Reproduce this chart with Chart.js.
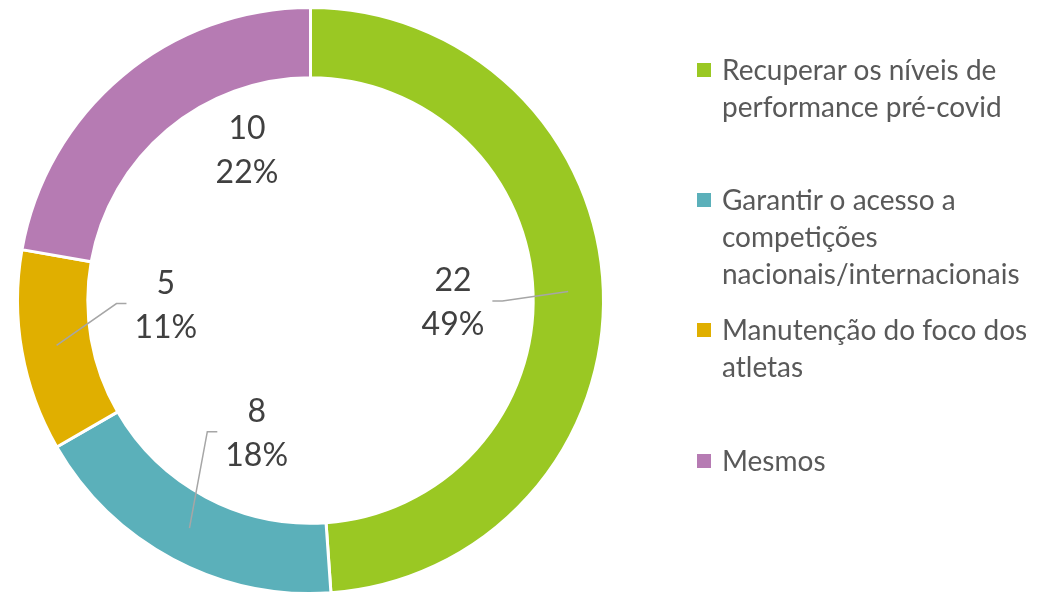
<!DOCTYPE html>
<html>
<head>
<meta charset="utf-8">
<script src="https://cdn.jsdelivr.net/npm/chart.js@4/dist/chart.umd.min.js"></script>
<style>
  body { margin: 0; background: #fff; }
  #wrap { position: relative; width: 1048px; height: 595px; }
  #legend { position: absolute; left: 0; top: 0; width: 1048px; font-family: Lato, sans-serif; font-size: 28px; color: #595959; }
  .item { position: absolute; left: 697px; width: 351px; white-space: pre; line-height: 37px; padding-left: 25px; box-sizing: border-box; }
  .box { position: absolute; left: 0; top: 12px; width: 14px; height: 14px; }
</style>
</head>
<body>
<div id="wrap">
  <canvas id="donut"></canvas>
  <div id="legend"></div>
</div>
<script>
// data
var categories = [
  'Recuperar os níveis de\nperformance pré-covid',
  'Garantir o acesso a\ncompetições\nnacionais/internacionais',
  'Manutenção do foco dos\natletas',
  'Mesmos'
];
var counts = [22, 8, 5, 10];
var percents = ['49%', '18%', '11%', '22%'];
var colors = ['#9AC823', '#5BB0BA', '#E0AF00', '#B67BB3'];

// where Excel left the labels: turn from the slice middle (deg) and distance as share of the hole
var labelTurn = [3, -6, 8, 17];
var labelDist = [0.64, 0.645, 0.65, 0.73];
var hasLeader = [true, true, true, false];
var legendTop = [51, 181, 311, 442];

var labelPlugin = {
  id: 'sliceLabels',
  afterDatasetsDraw: function (chart) {
    var ctx = chart.ctx;
    var arcs = chart.getDatasetMeta(0).data;
    ctx.save();
    ctx.font = '32px Lato, sans-serif';
    ctx.textAlign = 'center';
    ctx.textBaseline = 'middle';
    arcs.forEach(function (arc, i) {
      var p = arc.getProps(['x', 'y', 'startAngle', 'endAngle', 'innerRadius', 'outerRadius'], true);
      var mid = (p.startAngle + p.endAngle) / 2;
      var a = mid + labelTurn[i] * Math.PI / 180;
      var r = p.innerRadius * labelDist[i];
      var lx = p.x + Math.cos(a) * r;
      var ly = p.y + Math.sin(a) * r;

      if (hasLeader[i]) {
        var ringR = (p.innerRadius + p.outerRadius) / 2;
        var ax = p.x + Math.cos(mid) * ringR;
        var ay = p.y + Math.sin(mid) * ringR;
        var half = Math.max(ctx.measureText(String(counts[i])).width, ctx.measureText(percents[i]).width) / 2;
        var side = ax > lx ? 1 : -1;
        var sx = lx + side * (half + 8);
        var sy = ly - 2;
        ctx.strokeStyle = '#A6A6A6';
        ctx.lineWidth = 1.5;
        ctx.beginPath();
        ctx.moveTo(sx, sy);
        ctx.lineTo(sx + side * 10, sy);
        ctx.lineTo(ax, ay);
        ctx.stroke();
      }

      ctx.fillStyle = '#404040';
      ctx.fillText(String(counts[i]), lx, ly - 22);
      ctx.fillText(percents[i], lx, ly + 22);
    });
    ctx.restore();
  }
};

new Chart(document.getElementById('donut'), {
  type: 'doughnut',
  data: {
    labels: categories,
    datasets: [{
      data: counts,
      backgroundColor: colors,
      borderColor: '#ffffff',
      borderWidth: 3
    }]
  },
  options: {
    responsive: true,
    maintainAspectRatio: false,
    animation: false,
    cutout: '76%',
    layout: { padding: { left: 14, right: 441, top: 6, bottom: -4 } },
    plugins: {
      legend: { display: false },
      tooltip: { enabled: false }
    }
  },
  plugins: [labelPlugin]
});

// legend on the right
var legend = document.getElementById('legend');
categories.forEach(function (name, i) {
  var item = document.createElement('div');
  item.className = 'item';
  item.style.top = legendTop[i] + 'px';
  var box = document.createElement('span');
  box.className = 'box';
  box.style.background = colors[i];
  item.appendChild(box);
  item.appendChild(document.createTextNode(name));
  legend.appendChild(item);
});
</script>
</body>
</html>
